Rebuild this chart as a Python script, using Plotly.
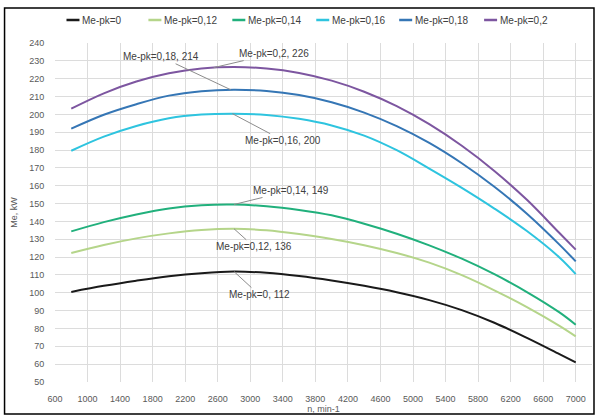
import plotly.graph_objects as go

n = [800, 1200, 1600, 2000, 2400, 2800, 3200, 3600, 4000, 4400, 4800, 5200, 5600, 6000, 6400, 6800, 7000]

me_pk_0 = [100.5, 103.9, 106.8, 109.3, 111.0, 111.9, 111.2, 109.4, 106.9, 103.9, 100.3, 95.9, 90.3, 83.2, 74.7, 65.6, 61.0]
me_pk_012 = [122.3, 126.8, 130.5, 133.3, 135.2, 135.9, 135.0, 132.9, 130.2, 126.7, 122.3, 116.9, 109.9, 101.4, 92.0, 81.5, 75.6]
me_pk_014 = [134.4, 139.6, 143.9, 147.3, 149.1, 149.5, 148.5, 146.4, 143.4, 138.7, 133.1, 126.6, 119.1, 110.4, 100.4, 89.0, 82.1]
me_pk_016 = [179.6, 187.5, 193.5, 197.8, 199.9, 200.4, 199.7, 197.5, 193.8, 188.1, 179.9, 169.6, 158.8, 147.2, 134.6, 119.8, 110.5]
me_pk_018 = [192.0, 199.8, 205.7, 210.5, 213.0, 213.8, 213.1, 210.8, 206.8, 201.0, 193.4, 184.0, 172.6, 159.4, 144.3, 127.0, 117.6]
me_pk_02 = [203.2, 211.8, 218.4, 223.0, 225.7, 226.5, 225.7, 223.2, 218.9, 212.7, 204.6, 194.5, 182.4, 168.3, 152.1, 133.5, 124.2]

names = ["Me-pk=0", "Me-pk=0,12", "Me-pk=0,14", "Me-pk=0,16", "Me-pk=0,18", "Me-pk=0,2"]
series = [me_pk_0, me_pk_012, me_pk_014, me_pk_016, me_pk_018, me_pk_02]
colors = ["#1a1a1a", "#b5d58a", "#21b07c", "#2ec4df", "#3576b5", "#7d56a0"]

# point labels
ann_x = [2800, 2800, 2800, 2780, 2760, 2550]
ann_y = [111.9, 135.9, 149.5, 200.4, 213.8, 226.2]
ann_text = ["Me-pk=0, 112", "Me-pk=0,12, 136", "Me-pk=0,14, 149",
            "Me-pk=0,16, 200", "Me-pk=0,18, 214", "Me-pk=0,2, 226"]
ann_ax = [25, 20, 57, 51, -70, 60]
ann_ay = [23, 18, -14, 27, -33, -14]

W, H = 596, 418
l, r, t, b = 54.5, 4, 43, 36
pw, ph = W - l - r, H - t - b
def px(xp):
    return (xp - l) / pw
def py(yp):
    return (H - b - yp) / ph

fig = go.Figure()
for name, ys, c in zip(names, series, colors):
    fig.add_trace(go.Scatter(x=n, y=ys, mode="lines", name=name, showlegend=False,
                             line=dict(color=c, width=2, shape="spline", smoothing=1.0)))

for x, y, tx, ax, ay in zip(ann_x, ann_y, ann_text, ann_ax, ann_ay):
    fig.add_annotation(x=x, y=y, text=tx, showarrow=True, arrowhead=0,
                       arrowwidth=1, arrowcolor="#8c8c8c", ax=ax, ay=ay,
                       font=dict(size=10, color="#404040"), bgcolor="rgba(255,255,255,0)")

# legend drawn as line keys + texts along the top
leg_start = [66, 148, 232, 316, 399, 484]
leg_y = 20
for x0, name, c in zip(leg_start, names, colors):
    fig.add_shape(type="line", xref="paper", yref="paper",
                  x0=px(x0), x1=px(x0 + 13), y0=py(leg_y), y1=py(leg_y),
                  line=dict(color=c, width=2.5))
    fig.add_annotation(xref="paper", yref="paper", x=px(x0 + 14), y=py(leg_y),
                       xanchor="left", yanchor="middle", text=name, showarrow=False,
                       font=dict(size=10, color="#404040"))

# outer frame
fig.add_shape(type="rect", xref="paper", yref="paper",
              x0=px(4), x1=px(594), y0=py(414), y1=py(8),
              line=dict(color="#000000", width=1.5), layer="above")

fig.update_layout(
    width=W, height=H,
    margin=dict(l=l, r=r, t=t, b=b),
    paper_bgcolor="white", plot_bgcolor="white",
    font=dict(family="Liberation Sans, Arial, sans-serif", size=9, color="#595959"),
    showlegend=False,
)
fig.update_xaxes(range=[600, 7200], tick0=600, dtick=400, showgrid=True,
                 gridcolor="#dcdcdc", gridwidth=1, zeroline=False, showline=False,
                 ticks="outside", ticklen=8, tickcolor="rgba(0,0,0,0)",
                 title=dict(text="n, min-1", font=dict(size=9), standoff=2),
                 tickfont=dict(size=9))
fig.update_yaxes(range=[50, 240], tick0=50, dtick=10, showgrid=True,
                 gridcolor="#dcdcdc", gridwidth=1, zeroline=False, showline=False,
                 ticks="outside", ticklen=8, tickcolor="rgba(0,0,0,0)",
                 title=dict(text="Me, kW", font=dict(size=9), standoff=10),
                 tickfont=dict(size=9))

fig.write_html("out.html")
